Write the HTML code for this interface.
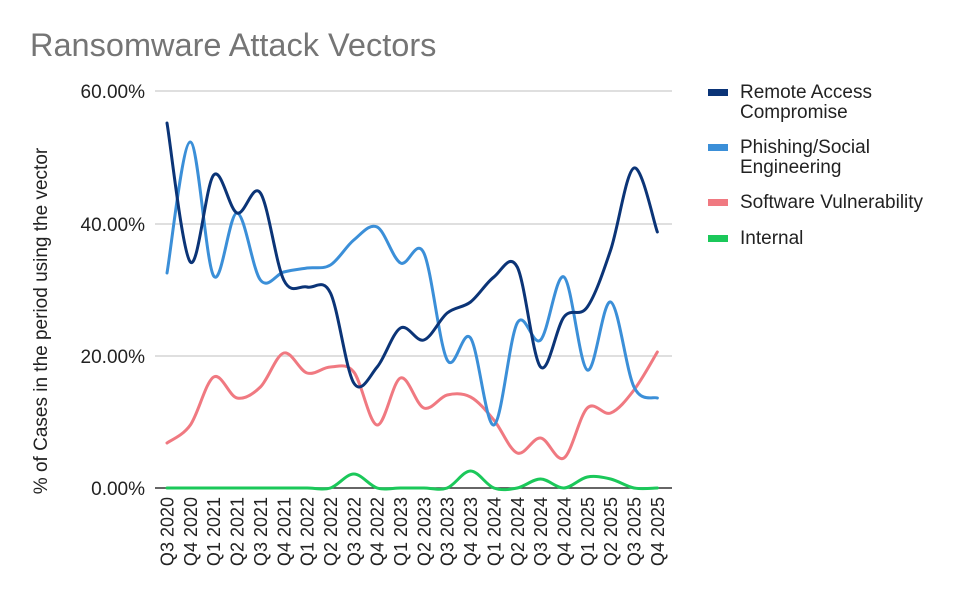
<!DOCTYPE html>
<html><head><meta charset="utf-8"><style>
body{margin:0;background:#fff;width:975px;height:602px;overflow:hidden}
svg text{font-family:"Liberation Sans",Arial,sans-serif}
</style></head><body>
<svg id="s" width="975" height="602" xmlns="http://www.w3.org/2000/svg">
<text x="30" y="56" font-size="32.5" fill="#757575">Ransomware Attack Vectors</text>
<g stroke="#ccc" stroke-width="1.2">
<line x1="155" y1="91" x2="672" y2="91"/><line x1="155" y1="224" x2="672" y2="224"/><line x1="155" y1="356" x2="672" y2="356"/>
</g>
<line x1="155" y1="488" x2="672" y2="488" stroke="#333" stroke-width="1.5"/>
<g font-size="19" fill="#222" text-anchor="end">
<text x="145" y="98">60.00%</text><text x="145" y="231">40.00%</text><text x="145" y="363">20.00%</text><text x="145" y="495">0.00%</text>
</g>
<text transform="translate(47,321) rotate(-90)" font-size="19" fill="#222" text-anchor="middle">% of Cases in the period using the vector</text>
<g id="xl" font-size="18" fill="#222" text-anchor="end"></g>
<g id="ln" fill="none" stroke-width="3" stroke-linejoin="round" stroke-linecap="round"></g>
<g font-size="19" fill="#222">
<rect x="708" y="89" width="20" height="7" fill="#0b3477"/><text x="740" y="98">Remote Access</text><text x="740" y="118">Compromise</text>
<rect x="708" y="144" width="20" height="7" fill="#3b8fd8"/><text x="740" y="153">Phishing/Social</text><text x="740" y="173">Engineering</text>
<rect x="708" y="199" width="20" height="7" fill="#f07981"/><text x="740" y="208">Software Vulnerability</text>
<rect x="708" y="235" width="20" height="7" fill="#1bc85a"/><text x="740" y="244">Internal</text>
</g>
</svg>
<script>
var ns="http://www.w3.org/2000/svg";
var labs=[];for(var y=2020;y<=2025;y++)for(var q=1;q<=4;q++){if(y==2020&&q<3)continue;labs.push("Q"+q+" "+y);}
var xl=document.getElementById("xl");
labs.forEach(function(l,i){var x=167+23.35*i;var t=document.createElementNS(ns,"text");t.setAttribute("transform","translate("+(x+6.5)+",497) rotate(-90)");t.textContent=l;xl.appendChild(t);});
var S=[
["#1bc85a",[488,488,488,488,488,488,488,488,474,488,488,488,488,471,488,488,479,488,477,479,488,488]],
["#f07981",[443,425,377,398,387,353,373,367,372,425,378,408,395,397,420,453,438,458,408,413,390,352]],
["#3b8fd8",[273,142,276,213,280,272,268,265,240,227,263,253,360,338,425,323,340,277,370,302,387,398]],
["#0b3477",[123,262,175,213,193,280,287,293,383,367,328,340,313,302,277,267,367,317,307,250,168,232]]];
var g=document.getElementById("ln");
S.forEach(function(s){var p=s[1].map(function(y,i){return[167+23.35*i,y]});
var d="M"+p[0][0]+","+p[0][1];
for(var i=0;i<p.length-1;i++){var p0=p[Math.max(0,i-1)],p1=p[i],p2=p[i+1],p3=p[Math.min(p.length-1,i+2)];
var c1=[p1[0]+(p2[0]-p0[0])/6,p1[1]+(p2[1]-p0[1])/6],c2=[p2[0]-(p3[0]-p1[0])/6,p2[1]-(p3[1]-p1[1])/6];
d+=" C"+c1+" "+c2+" "+p2;}
var e=document.createElementNS(ns,"path");e.setAttribute("d",d);e.setAttribute("stroke",s[0]);g.appendChild(e);});
</script>
</body></html>
